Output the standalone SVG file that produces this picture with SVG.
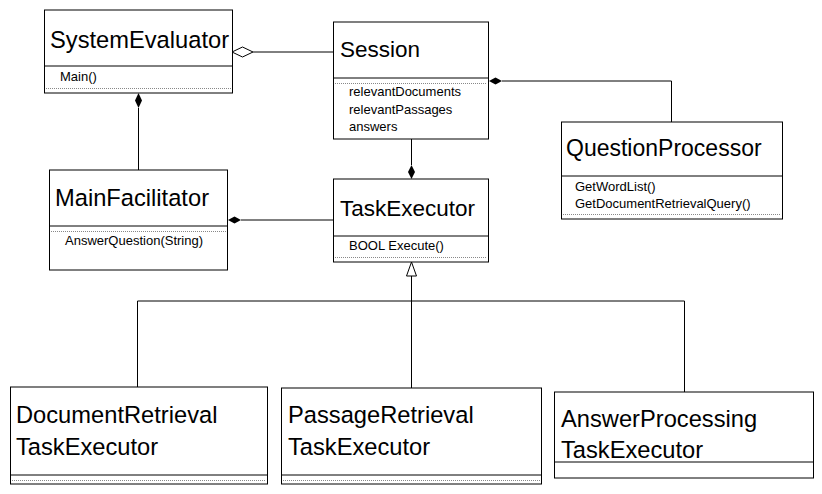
<svg xmlns="http://www.w3.org/2000/svg" width="822" height="494" viewBox="0 0 822 494">
<style>
.box{fill:#fff;stroke:#000;stroke-width:1}
.div{stroke:#000;stroke-width:1}
.dot{stroke:#888;stroke-width:1;stroke-dasharray:1,1}
.title{font-family:"Liberation Sans",Arial,sans-serif;font-size:22.5px;fill:#000}
.big{font-family:"Liberation Sans",Arial,sans-serif;font-size:23px;fill:#000}
.xl{font-family:"Liberation Sans",Arial,sans-serif;font-size:23.7px;fill:#000}
.small{font-family:"Liberation Sans",Arial,sans-serif;font-size:13px;fill:#000}
.conn{fill:none;stroke:#000;stroke-width:1}
</style>
<rect width="822" height="494" fill="#fff"/>
<g id="connectors">
  <polyline class="conn" points="253,52 333,52"/>
  <polygon points="232,52 242.5,47 253,52 242.5,57" fill="#fff" stroke="#000"/>
  <polyline class="conn" points="138.5,108 138.5,170"/>
  <polygon points="138.5,93 142,100.5 138.5,108 135,100.5" fill="#000"/>
  <polyline class="conn" points="502,81 671.5,81 671.5,122"/>
  <polygon points="489,81 495.5,77.5 502,81 495.5,84.5" fill="#000"/>
  <polyline class="conn" points="411.5,139 411.5,165"/>
  <polygon points="411.5,165 415,172 411.5,179 408,172" fill="#000"/>
  <polyline class="conn" points="241,220 333,220"/>
  <polygon points="228,220 234.5,216.5 241,220 234.5,223.5" fill="#000"/>
  <polyline class="conn" points="411.5,276 411.5,388"/>
  <polygon points="411.5,262 416.5,276 406.5,276" fill="#fff" stroke="#000"/>
  <polyline class="conn" points="137.5,387 137.5,301 684.5,301 684.5,392"/>
</g>
<g id="SystemEvaluator">
  <rect class="box" x="44.5" y="10" width="188" height="83"/>
  <line class="div" x1="44.5" y1="66" x2="232.5" y2="66"/>
  <line class="dot" x1="46" y1="88.5" x2="231" y2="88.5"/>
  <text class="xl" x="50" y="48">SystemEvaluator</text>
  <text class="small" x="60" y="81">Main()</text>
</g>
<g id="Session">
  <rect class="box" x="333.5" y="22" width="155" height="117"/>
  <line class="div" x1="333.5" y1="78" x2="488.5" y2="78"/>
  <line class="dot" x1="335" y1="83.5" x2="487" y2="83.5"/>
  <text class="title" x="340" y="57">Session</text>
  <text class="small" x="349" y="96">relevantDocuments</text>
  <text class="small" x="349" y="114">relevantPassages</text>
  <text class="small" x="349" y="131">answers</text>
</g>
<g id="QuestionProcessor">
  <rect class="box" x="561.5" y="122" width="221" height="97"/>
  <line class="div" x1="561.5" y1="176" x2="782.5" y2="176"/>
  <line class="dot" x1="563" y1="214.5" x2="781" y2="214.5"/>
  <text class="big" x="566" y="156">QuestionProcessor</text>
  <text class="small" x="575" y="191">GetWordList()</text>
  <text class="small" x="575" y="208">GetDocumentRetrievalQuery()</text>
</g>
<g id="MainFacilitator">
  <rect class="box" x="49.5" y="170" width="178" height="100"/>
  <line class="div" x1="49.5" y1="226" x2="227.5" y2="226"/>
  <line class="dot" x1="51" y1="231.5" x2="226" y2="231.5"/>
  <text class="xl" x="55" y="206">MainFacilitator</text>
  <text class="small" x="65" y="245">AnswerQuestion(String)</text>
</g>
<g id="TaskExecutor">
  <rect class="box" x="333.5" y="179" width="155" height="83"/>
  <line class="div" x1="333.5" y1="236" x2="488.5" y2="236"/>
  <line class="dot" x1="335" y1="257.5" x2="487" y2="257.5"/>
  <text class="title" x="340" y="216">TaskExecutor</text>
  <text class="small" x="349" y="250">BOOL Execute()</text>
</g>
<g id="DocumentRetrievalTaskExecutor">
  <rect class="box" x="10.5" y="387" width="257" height="97"/>
  <line class="div" x1="10.5" y1="475" x2="267.5" y2="475"/>
  <line class="dot" x1="12" y1="480.5" x2="266" y2="480.5"/>
  <text class="xl" x="16" y="423">DocumentRetrieval</text>
  <text class="xl" x="16" y="455">TaskExecutor</text>
</g>
<g id="PassageRetrievalTaskExecutor">
  <rect class="box" x="281.5" y="388" width="260" height="96"/>
  <line class="div" x1="281.5" y1="475" x2="541.5" y2="475"/>
  <line class="dot" x1="283" y1="480.5" x2="540" y2="480.5"/>
  <text class="xl" x="288" y="423">PassageRetrieval</text>
  <text class="xl" x="288" y="455">TaskExecutor</text>
</g>
<g id="AnswerProcessingTaskExecutor">
  <rect class="box" x="554.5" y="392" width="259" height="86"/>
  <line class="div" x1="554.5" y1="462" x2="813.5" y2="462"/>
  <text class="xl" x="561" y="427">AnswerProcessing</text>
  <text class="xl" x="561" y="458">TaskExecutor</text>
</g>
</svg>
